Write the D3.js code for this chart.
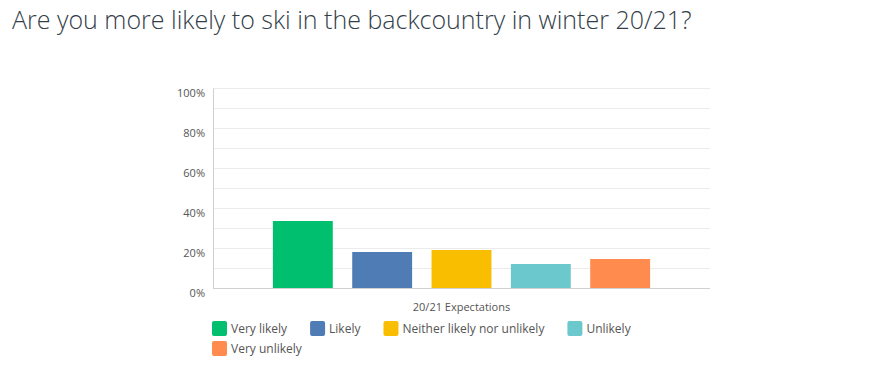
<!DOCTYPE html>
<html>
<head>
<meta charset="utf-8">
<script src="https://cdn.jsdelivr.net/npm/d3@7"></script>
<style>
  body{margin:0;background:#fff;}
  svg{display:block;font-family:"Open Sans",sans-serif;}
</style>
</head>
<body>
<svg id="chart" width="895" height="373"></svg>
<script>
const title="Are you more likely to ski in the backcountry in winter 20/21?";
const categories=["Very likely","Likely","Neither likely nor unlikely","Unlikely","Very unlikely"];
const values=[33.5,18,19,12,14.5];
const colors=["#00bf6f","#507cb6","#f9be00","#6bc8cd","#ff8b4f"];
const y_ticks=[0,20,40,60,80,100];
const x_label="20/21 Expectations";

const svg=d3.select("#chart");

// title
svg.append("text")
    .attr("x",12)
    .attr("y",29)
    .attr("font-size",25)
    .attr("font-weight",300)
    .attr("fill","#333e48")
    .text(title);

const plot_left=213,plot_right=710,plot_top=88,plot_bottom=288;

const y=d3.scaleLinear().domain([0,100]).range([plot_bottom,plot_top]);
const x=d3.scaleBand().domain(categories).range([plot_left,plot_right])
    .paddingInner(0.245).paddingOuter(0.755);

// gridlines (every 10%)
svg.append("g")
    .selectAll("line")
    .data(d3.range(10,101,10))
    .join("line")
    .attr("x1",plot_left)
    .attr("x2",plot_right)
    .attr("y1",d=>y(d)+0.5)
    .attr("y2",d=>y(d)+0.5)
    .attr("stroke","#ebebeb")
    .attr("stroke-width",1);

// y axis
const yAxis=svg.append("g")
    .attr("transform",`translate(${plot_left},0)`)
    .call(d3.axisLeft(y).tickValues(y_ticks).tickFormat(d=>d+"%").tickSize(0).tickPadding(8));
yAxis.select(".domain").attr("stroke","#d0d0d0");
yAxis.selectAll("text")
    .attr("dy","0.32em")
    .attr("font-size",11)
    .attr("fill","#555")
    .attr("font-family","Open Sans, sans-serif")
    .attr("transform","translate(0,5)");

// bars
svg.append("g")
    .selectAll("rect")
    .data(categories)
    .join("rect")
    .attr("x",d=>x(d))
    .attr("width",x.bandwidth())
    .attr("y",(d,i)=>y(values[i]))
    .attr("height",(d,i)=>y(0)-y(values[i]))
    .attr("fill",(d,i)=>colors[i]);

// baseline
svg.append("line")
    .attr("x1",plot_left)
    .attr("x2",plot_right)
    .attr("y1",plot_bottom+0.5)
    .attr("y2",plot_bottom+0.5)
    .attr("stroke","#d0d0d0");

// x label
svg.append("text")
    .attr("x",(plot_left+plot_right)/2)
    .attr("y",311)
    .attr("text-anchor","middle")
    .attr("font-size",11)
    .attr("fill","#555")
    .text(x_label);

// legend (flow layout)
const legend=svg.append("g");
let lx=212,ly=321;
const legend_right=712;
categories.forEach((name,i)=>{
    const g=legend.append("g");
    g.append("rect")
        .attr("width",15)
        .attr("height",15)
        .attr("rx",2)
        .attr("fill",colors[i]);
    const t=g.append("text")
        .attr("x",19)
        .attr("y",12)
        .attr("font-size",12)
        .attr("fill","#555")
        .text(name);
    const w=19+t.node().getComputedTextLength();
    if(lx+w>legend_right){
        lx=212;
        ly+=20;
    }
    g.attr("transform",`translate(${lx},${ly})`);
    lx+=w+23;
});
</script>
</body>
</html>
